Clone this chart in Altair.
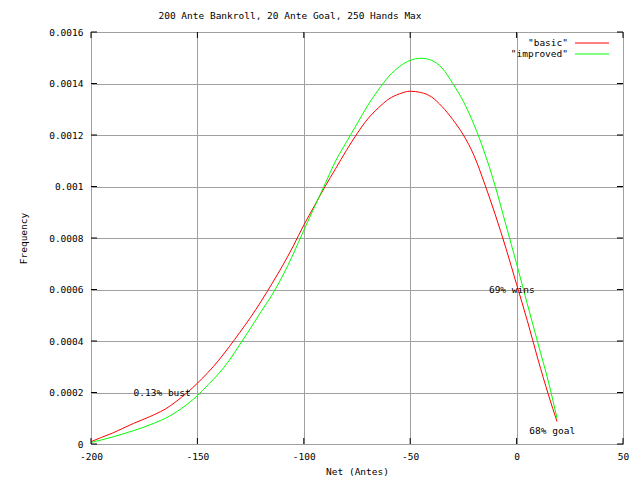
import altair as alt
import pandas as pd

# ---- data ----
net = [-200, -195, -190, -185, -180, -175, -170, -165, -160, -155, -150, -145,
       -140, -135, -130, -125, -120, -115, -110, -105, -100, -95, -90, -85,
       -80, -75, -70, -65, -60, -55, -50, -45, -40, -35, -30, -25, -20, -15,
       -10, -5, 0, 5, 10, 15, 19]
basic = [0.000009, 0.000026, 0.000042, 0.000061, 0.000080, 0.000097, 0.000115,
         0.000136, 0.000165, 0.000198, 0.000236, 0.000278, 0.000325, 0.000378,
         0.000434, 0.000492, 0.000555, 0.000622, 0.000692, 0.000768, 0.000850,
         0.000925, 0.001000, 0.001070, 0.001140, 0.001205, 0.001262, 0.001305,
         0.001340, 0.001360, 0.001370, 0.001365, 0.001348, 0.001310, 0.001260,
         0.001200, 0.001120, 0.001010, 0.000890, 0.000760, 0.000620, 0.000480,
         0.000330, 0.000190, 0.000087]
improved = [0.000006, 0.000016, 0.000027, 0.000039, 0.000052, 0.000066, 0.000082,
            0.000100, 0.000124, 0.000153, 0.000188, 0.000230, 0.000273, 0.000325,
            0.000387, 0.000450, 0.000515, 0.000578, 0.000652, 0.000737, 0.000830,
            0.000920, 0.001010, 0.001100, 0.001172, 0.001243, 0.001314, 0.001375,
            0.001428, 0.001466, 0.001490, 0.001498, 0.001490, 0.001460, 0.001400,
            0.001330, 0.001240, 0.001130, 0.001000, 0.000850, 0.000700, 0.000545,
            0.000392, 0.000240, 0.000100]
series_names = ["basic", "improved"]
legend_texts = ['"basic"', '"improved"']
series_colors = ["#ff0000", "#00ff00"]

x_ticks = [-200, -150, -100, -50, 0, 50]
y_ticks = [0, 0.0002, 0.0004, 0.0006, 0.0008, 0.001, 0.0012, 0.0014, 0.0016]

labels = ["0.13% bust", "69% wins", "68% goal"]
label_x = [-180, -13, 6]
label_y = [0.0002, 0.0006, 0.00005]

FONT = "DejaVu Sans Mono"
FS = 9.5
W, H = 532, 412

rows = []
for n, b, i in zip(net, basic, improved):
    rows.append({"net": n, "freq": b, "series": "basic"})
    rows.append({"net": n, "freq": i, "series": "improved"})
df = pd.DataFrame(rows)

xscale = alt.Scale(domain=[-200, 50], nice=False, zero=False)
yscale = alt.Scale(domain=[0, 0.0016], nice=False)
cscale = alt.Scale(domain=series_names, range=series_colors)

x_axis = alt.Axis(values=x_ticks, title="Net (Antes)", grid=True, gridColor="#a0a0a0",
                  gridOpacity=1, ticks=False, domain=False, labelPadding=7,
                  labelExpr="'' + datum.value", labelFont=FONT, labelFontSize=FS,
                  labelColor="black", titleFont=FONT, titleFontSize=FS,
                  titleFontWeight="normal", titleColor="black", titlePadding=6,
                  labelFlush=False)
y_axis = alt.Axis(values=y_ticks, title="Frequency", grid=True, gridColor="#a0a0a0",
                  gridOpacity=1, ticks=False, domain=False, labelPadding=8,
                  labelExpr="datum.value == 0 ? '0' : format(datum.value, '.4~f')",
                  labelFont=FONT, labelFontSize=FS, labelColor="black",
                  titleFont=FONT, titleFontSize=FS, titleFontWeight="normal",
                  titleColor="black", titlePadding=20, labelFlush=False)

lines = alt.Chart(df).mark_line(strokeWidth=1, interpolate="monotone").encode(
    x=alt.X("net:Q", scale=xscale, axis=x_axis),
    y=alt.Y("freq:Q", scale=yscale, axis=y_axis),
    color=alt.Color("series:N", scale=cscale, legend=None),
)

xt = pd.DataFrame({"net": x_ticks})
yt = pd.DataFrame({"freq": y_ticks})
tick_b = alt.Chart(xt).mark_rule(color="black").encode(
    x="net:Q", y=alt.value(H), y2=alt.value(H - 6))
tick_t = alt.Chart(xt).mark_rule(color="black").encode(
    x="net:Q", y=alt.value(0), y2=alt.value(6))
tick_l = alt.Chart(yt).mark_rule(color="black").encode(
    y="freq:Q", x=alt.value(0), x2=alt.value(6))
tick_r = alt.Chart(yt).mark_rule(color="black").encode(
    y="freq:Q", x=alt.value(W), x2=alt.value(W - 6))

ann = pd.DataFrame({"label": labels, "net": label_x, "freq": label_y})
texts = alt.Chart(ann).mark_text(align="left", baseline="middle", font=FONT,
                                 fontSize=FS, color="black").encode(
    x="net:Q", y="freq:Q", text="label:N")

legend_layers = []
for k, (name, txt) in enumerate(zip(series_names, legend_texts)):
    ld = pd.DataFrame({"series": [name], "txt": [txt]})
    yy = 11 + 11 * k
    legend_layers.append(
        alt.Chart(ld).mark_text(align="right", baseline="middle", font=FONT,
                                fontSize=FS, color="black").encode(
            x=alt.value(477), y=alt.value(yy), text="txt:N"))
    legend_layers.append(
        alt.Chart(ld).mark_rule(strokeWidth=1).encode(
            x=alt.value(484), x2=alt.value(518), y=alt.value(yy),
            color=alt.Color("series:N", scale=cscale, legend=None)))

chart = alt.layer(lines, tick_b, tick_t, tick_l, tick_r, texts, *legend_layers).properties(
    width=W, height=H,
    title=alt.TitleParams("200 Ante Bankroll, 20 Ante Goal, 250 Hands Max", font=FONT,
                          fontSize=FS, fontWeight="normal", color="black",
                          anchor="middle", dx=-67, offset=7),
    autosize=alt.AutoSizeParams(type="none"),
    padding={"left": 83, "top": 24, "right": 9, "bottom": 36},
).configure_view(stroke="black", strokeWidth=1).configure(background="white")

chart.save("out.html", embed_options={"renderer": "svg", "actions": False})
